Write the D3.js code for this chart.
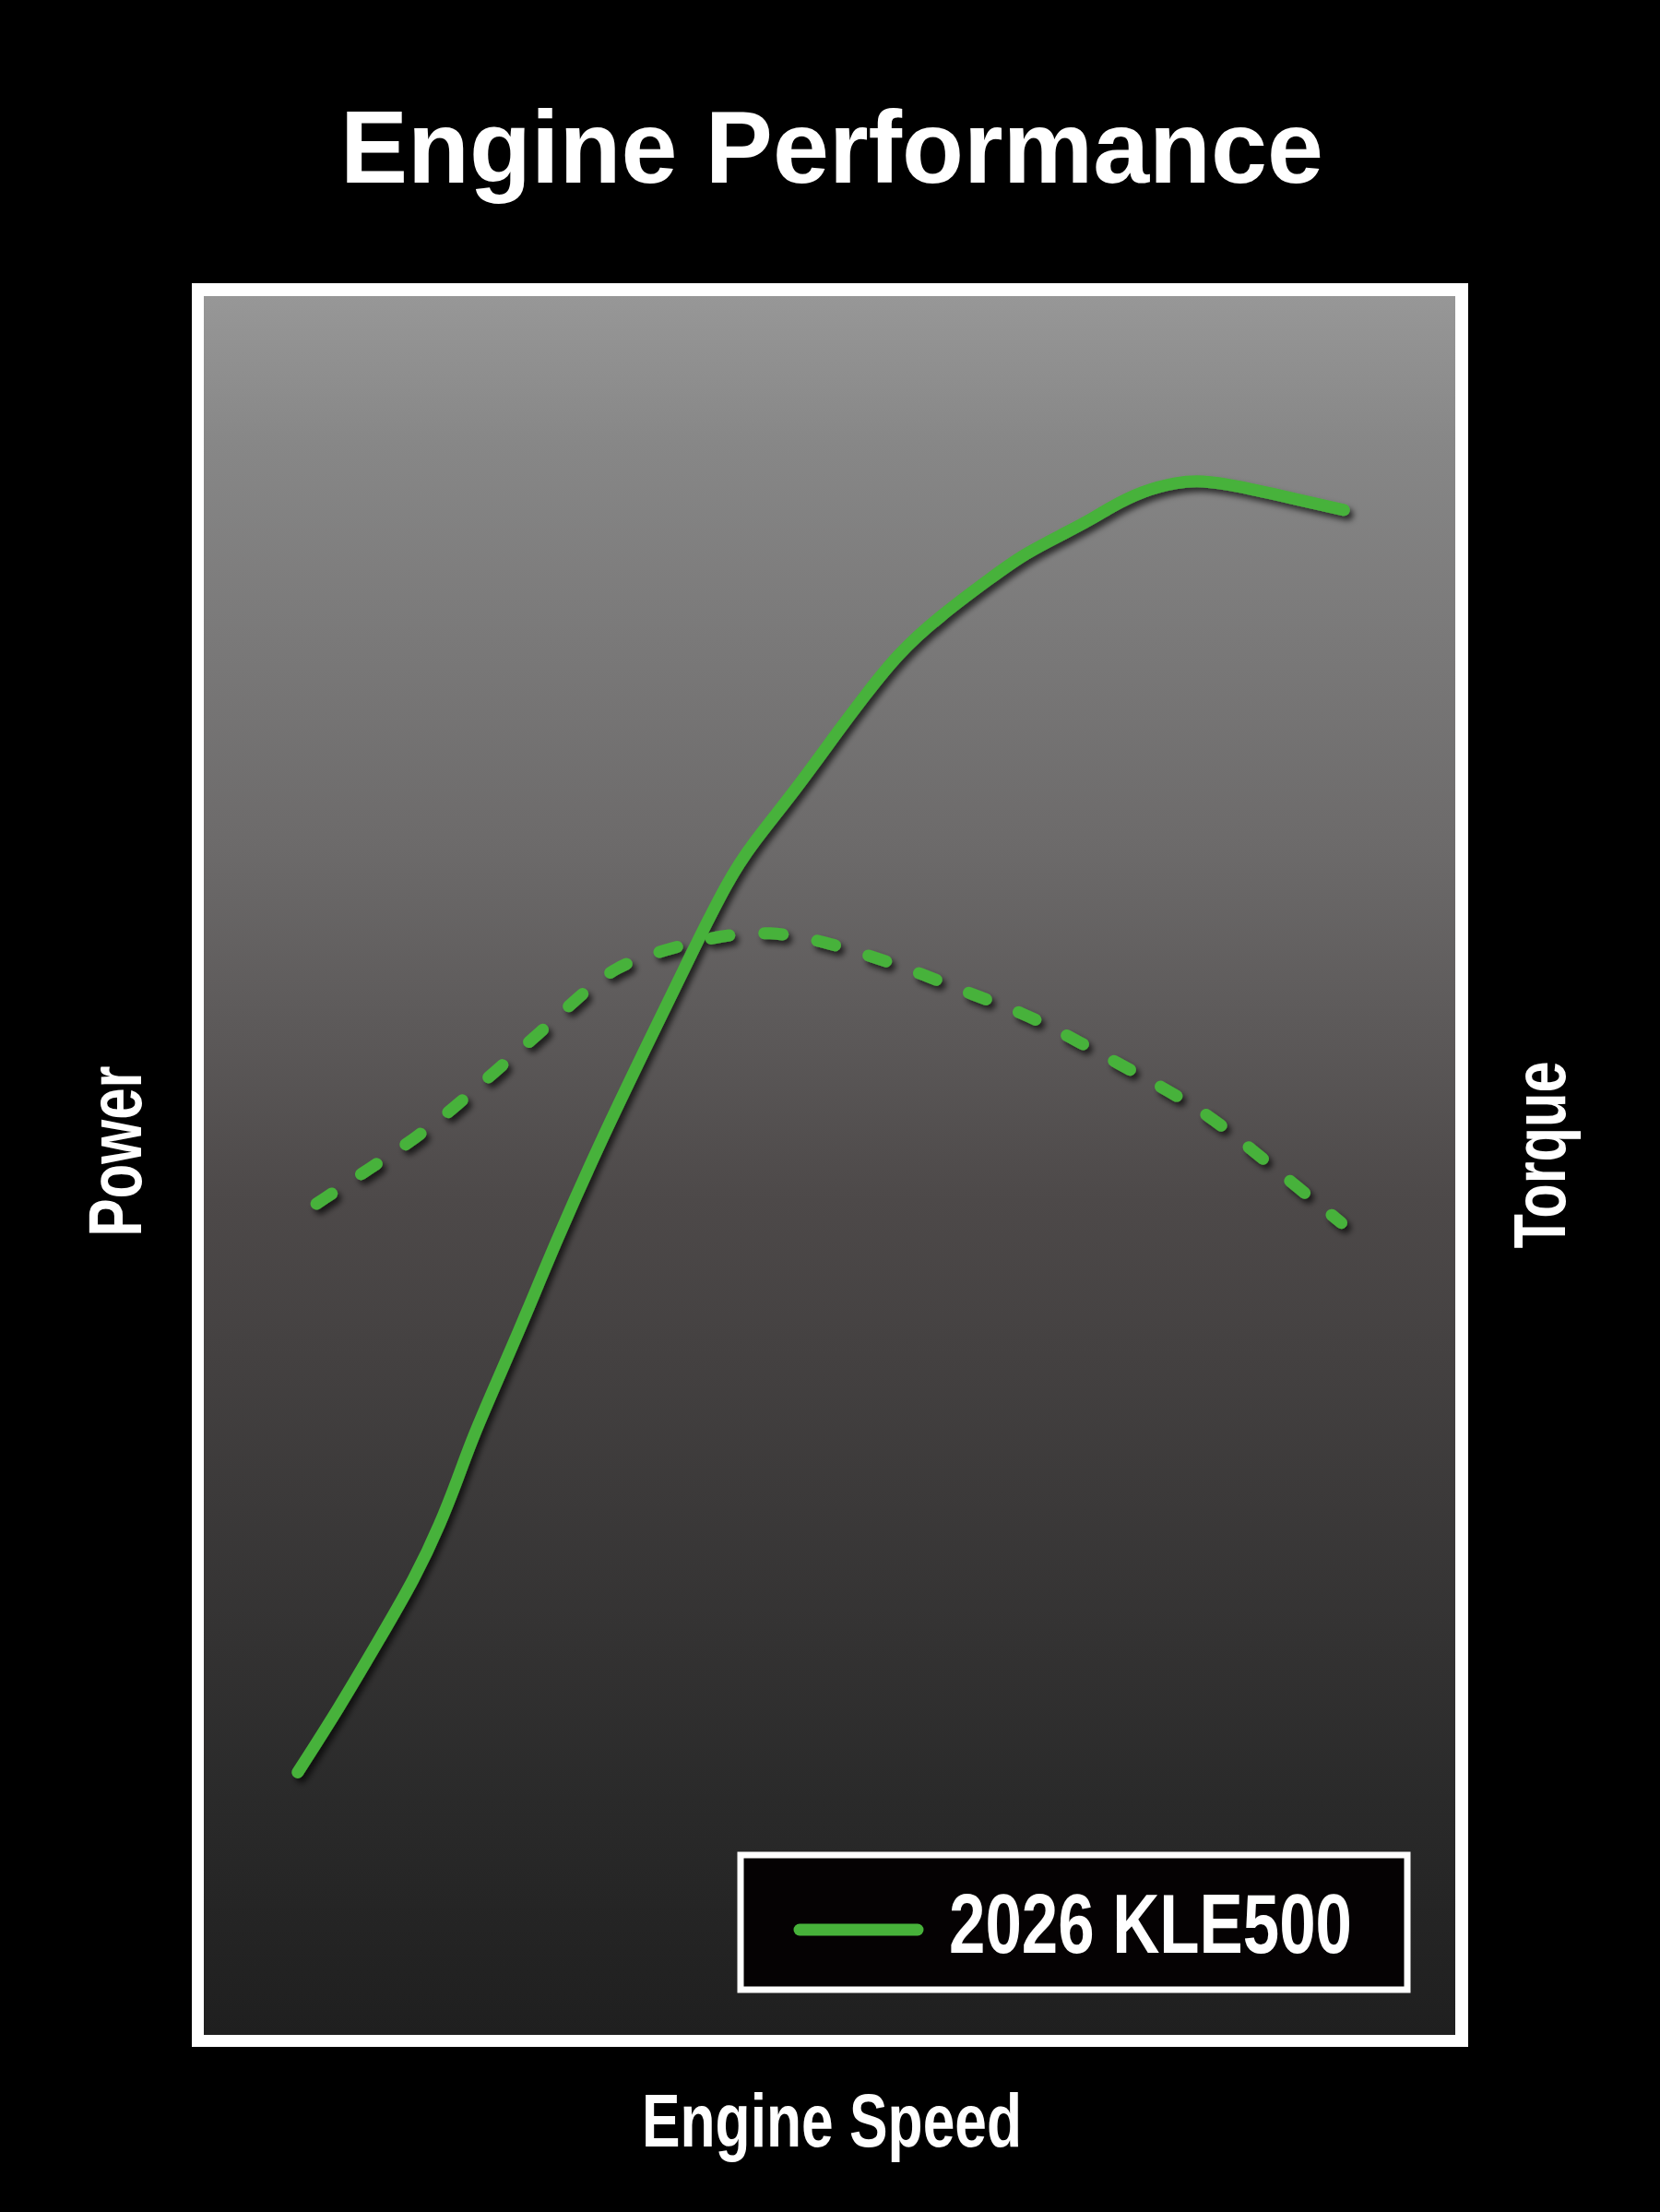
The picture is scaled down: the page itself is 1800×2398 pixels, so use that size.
<!DOCTYPE html>
<html>
<head>
<meta charset="utf-8">
<script src="https://cdn.jsdelivr.net/npm/d3@7"></script>
<style>
    html, body { margin: 0; padding: 0; background: #000; }
    svg { display: block; }
</style>
</head>
<body>
<div id="chart"></div>
<script>
// values (engine speed and output in % of the plot area)
const powerSpeed = [7.5, 10.8, 13.9, 16.9, 18.9, 20.3, 21.5, 23.5, 25.9, 28.0, 31.7, 35.6, 39.1, 41.9,
    43.7, 47.3, 51.0, 52.7, 55.4, 58.8, 62.9, 65.6, 68.9, 71.0, 72.3, 75.0, 77.8, 79.7, 82.5, 86.2, 91.1];
const power = [15.1, 18.8, 22.6, 26.3, 29.4, 32.0, 34.4, 37.7, 41.7, 45.4, 51.4, 57.2, 62.4, 66.4,
    68.4, 71.6, 75.3, 76.9, 79.4, 81.6, 83.8, 85.2, 86.4, 87.2, 87.8, 88.8, 89.3, 89.4, 89.1, 88.5, 87.7];

const torqueSpeed = [9.0, 13.4, 17.0, 20.3, 23.4, 26.8, 29.8, 32.9, 36.9, 40.9, 45.3, 49.5, 53.5,
    57.5, 61.5, 65.4, 69.2, 73.0, 76.6, 80.3, 83.6, 86.8, 90.9];
const torque = [47.8, 49.9, 51.6, 53.5, 55.5, 57.6, 59.6, 61.5, 62.4, 63.2, 63.5, 62.9, 62.0,
    61.0, 59.8, 58.8, 57.4, 55.9, 54.5, 52.9, 51.0, 49.1, 46.7];

const title = "Engine Performance";
const xLabel = "Engine Speed";
const yLeftLabel = "Power";
const yRightLabel = "Torque";
const legendLabel = "2026 KLE500";

(function () {
    let width = 1800,
        height = 2398;

    // plot area (inside the white frame)
    let plot = { left: 221, right: 1578, top: 321, bottom: 2206 };
    let green = "#47b23a";
    let condensed = "'Liberation Sans Narrow', 'Liberation Sans', Arial, sans-serif";

    let svg = d3.select("#chart")
        .append("svg")
        .attr("width", width)
        .attr("height", height);

    svg.append("rect")
        .attr("width", width)
        .attr("height", height)
        .attr("fill", "#000");

    let defs = svg.append("defs");

    // background gradient of the plot area
    let grad = defs.append("linearGradient")
        .attr("id", "bg")
        .attr("x1", 0).attr("y1", 0)
        .attr("x2", 0).attr("y2", 1);
    [[0, "#979797"], [0.084, "#878787"], [0.318, "#6c6a6a"], [0.52, "#4d4949"],
     [0.864, "#2a2a2a"], [1, "#1f1f1f"]].forEach(s => {
        grad.append("stop").attr("offset", s[0]).attr("stop-color", s[1]);
    });

    // soft shadow under the curves
    defs.append("filter")
        .attr("id", "shadow")
        .attr("x", "-10%").attr("y", "-10%")
        .attr("width", "120%").attr("height", "120%")
        .append("feDropShadow")
        .attr("dx", 4)
        .attr("dy", 5)
        .attr("stdDeviation", 3)
        .attr("flood-color", "#000")
        .attr("flood-opacity", 0.65);

    // title
    svg.append("text")
        .attr("x", 902)
        .attr("y", 198)
        .style("text-anchor", "middle")
        .style("font-family", "'Liberation Sans', Arial, sans-serif")
        .style("font-weight", "bold")
        .style("font-size", "112px")
        .attr("textLength", 1066)
        .attr("lengthAdjust", "spacingAndGlyphs")
        .attr("fill", "#fff")
        .text(title);

    // white frame + gradient plot area
    svg.append("rect")
        .attr("x", 208)
        .attr("y", 307)
        .attr("width", 1592 - 208)
        .attr("height", 2219 - 307)
        .attr("fill", "#fff");

    svg.append("rect")
        .attr("x", plot.left)
        .attr("y", plot.top)
        .attr("width", plot.right - plot.left)
        .attr("height", plot.bottom - plot.top)
        .attr("fill", "url(#bg)");

    // scales
    let x = d3.scaleLinear()
        .domain([0, 100])
        .range([plot.left, plot.right]);

    let y = d3.scaleLinear()
        .domain([0, 100])
        .range([plot.bottom, plot.top]);

    // basis curve smooths the hand-read points a little
    let line = d3.line()
        .x(d => x(d[0]))
        .y(d => y(d[1]))
        .curve(d3.curveBasis);

    let curves = svg.append("g")
        .attr("filter", "url(#shadow)");

    // torque (dashed)
    curves.append("path")
        .datum(d3.zip(torqueSpeed, torque))
        .attr("d", line)
        .attr("fill", "none")
        .attr("stroke", green)
        .attr("stroke-width", 13)
        .attr("stroke-linecap", "round")
        .attr("stroke-dasharray", "20 38");

    // power (solid)
    curves.append("path")
        .datum(d3.zip(powerSpeed, power))
        .attr("d", line)
        .attr("fill", "none")
        .attr("stroke", green)
        .attr("stroke-width", 13)
        .attr("stroke-linecap", "round")
        .attr("stroke-linejoin", "round");

    // legend
    let legend = svg.append("g");
    legend.append("rect")
        .attr("x", 803)
        .attr("y", 2011)
        .attr("width", 723)
        .attr("height", 146)
        .attr("fill", "#050203")
        .attr("stroke", "#fff")
        .attr("stroke-width", 7);

    legend.append("line")
        .attr("x1", 867)
        .attr("x2", 995)
        .attr("y1", 2092)
        .attr("y2", 2092)
        .attr("stroke", green)
        .attr("stroke-width", 13)
        .attr("stroke-linecap", "round");

    legend.append("text")
        .attr("x", 1029)
        .attr("y", 2117)
        .style("font-family", condensed)
        .style("font-weight", "bold")
        .style("font-size", "90px")
        .attr("textLength", 437)
        .attr("lengthAdjust", "spacingAndGlyphs")
        .attr("fill", "#fff")
        .text(legendLabel);

    // x-axis label
    svg.append("text")
        .attr("x", 902)
        .attr("y", 2327)
        .style("text-anchor", "middle")
        .style("font-family", condensed)
        .style("font-weight", "bold")
        .style("font-size", "82px")
        .attr("textLength", 412)
        .attr("lengthAdjust", "spacingAndGlyphs")
        .attr("fill", "#fff")
        .text(xLabel);

    // y-axis labels (both read bottom to top)
    svg.append("text")
        .attr("transform", "translate(153, 1248) rotate(-90)")
        .style("text-anchor", "middle")
        .style("font-family", condensed)
        .style("font-weight", "bold")
        .style("font-size", "81px")
        .attr("textLength", 185)
        .attr("lengthAdjust", "spacingAndGlyphs")
        .attr("fill", "#fff")
        .text(yLeftLabel);

    svg.append("text")
        .attr("transform", "translate(1697, 1252) rotate(-90)")
        .style("text-anchor", "middle")
        .style("font-family", condensed)
        .style("font-weight", "bold")
        .style("font-size", "80px")
        .attr("textLength", 203)
        .attr("lengthAdjust", "spacingAndGlyphs")
        .attr("fill", "#fff")
        .text(yRightLabel);
})();
</script>
</body>
</html>
